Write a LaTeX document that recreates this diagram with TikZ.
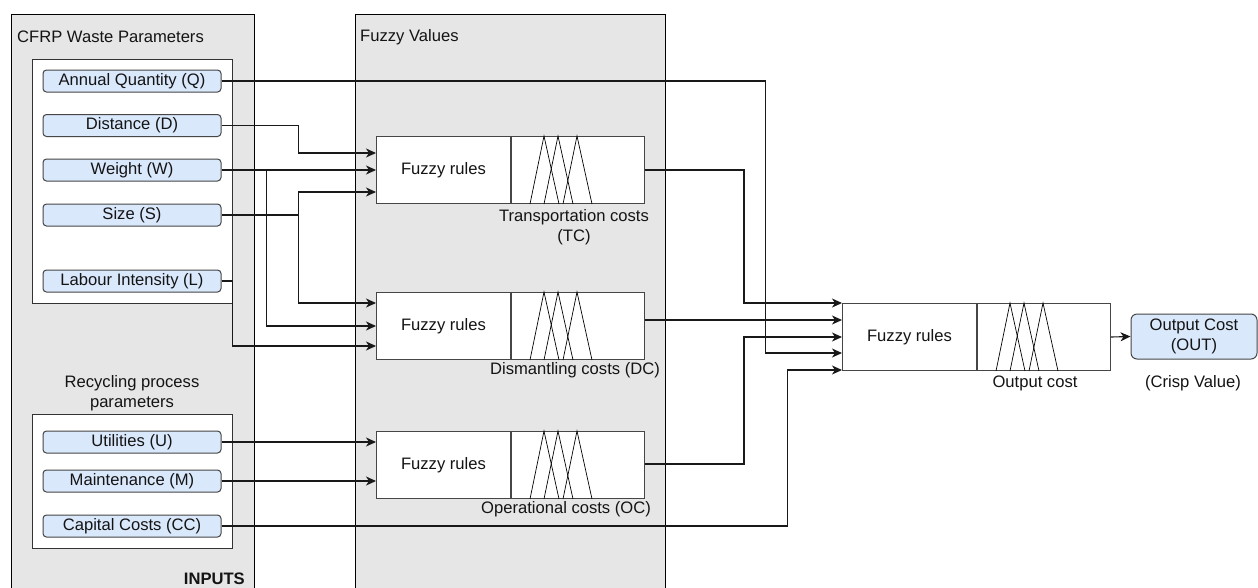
\documentclass[tikz,border=0pt]{standalone}
\usepackage{fontspec}
\setmainfont{Liberation Sans}
\usetikzlibrary{arrows.meta,calc}
\definecolor{panelgray}{RGB}{230,230,230}
\definecolor{lblue}{RGB}{218,232,252}
\definecolor{bord}{RGB}{70,70,70}
\definecolor{txt}{RGB}{20,20,20}
\newcommand\myfs{\fontsize{16.6}{20}\selectfont}
\tikzset{
  panel/.style={draw=black, fill=panelgray, line width=1.1pt, inner sep=0pt},
  innerbox/.style={draw=black!80, fill=white, line width=1pt, inner sep=0pt},
  param/.style={draw=bord, fill=lblue, rounded corners=3.5pt, minimum width=178pt, minimum height=22pt, inner sep=0pt, line width=1pt},
  rules/.style={draw=bord, fill=white, minimum width=134pt, minimum height=67pt, inner sep=0pt, line width=1pt},
  memb/.style={draw=bord, fill=white, minimum width=133pt, minimum height=67pt, inner sep=0pt, line width=1pt},
  tri/.style={draw=black, line width=0.7pt},
  lbl/.style={inner sep=0pt, align=center},
  wire/.style={draw=black!90, line width=1.1pt},
  conn/.style={wire, -{Stealth[length=10pt,width=9pt,inset=3pt]}},
}
\newcommand\myfuzzy[3]{%
  \node[rules, anchor=north west] (#1R) at (#2,#3) {Fuzzy rules};
  \node[memb, anchor=north west] (#1M) at (#1R.north east) {};
  \foreach \a in {19,33,52}
    \draw[tri] ($(#1M.south west)+(\a,0)$) -- ($(#1M.north west)+(\a+14,0)$) -- ($(#1M.south west)+(\a+29,0)$);
}
\begin{document}
\begin{tikzpicture}[x=1pt, y=-1pt, font=\myfs, text=txt]
\useasboundingbox (0,0) rectangle (1258,587);
\clip (0,0) rectangle (1258,587);
\fill[white] (0,0) rectangle (1258,587);

% panels
\node[panel, anchor=north west, minimum width=243pt, minimum height=600pt] (inputs) at (11,14) {};
\node[panel, anchor=north west, minimum width=310pt, minimum height=600pt] (fuzzyp) at (355,14) {};
\node[lbl, anchor=west] (cfrpt) at (17,37) {CFRP Waste Parameters};
\node[lbl, anchor=west] (fvt) at (360,37) {Fuzzy Values};
\node[lbl, anchor=east, font=\myfs\bfseries] (inpt) at (245,579) {INPUTS};
\node[lbl] (rect) at (132,393) {Recycling process\\parameters};

% inner boxes
\node[innerbox, anchor=north west, minimum width=200pt, minimum height=244pt] (cfrpbox) at (32,59) {};
\node[innerbox, anchor=north west, minimum width=200pt, minimum height=134pt] (recbox) at (32,414) {};

% parameter nodes
\node[param] (Q) at (132,81) {Annual Quantity (Q)};
\node[param] (D) at (132,125.5) {Distance (D)};
\node[param] (W) at (132,170) {Weight (W)};
\node[param] (S) at (132,215) {Size (S)};
\node[param] (L) at (132,281) {Labour Intensity (L)};
\node[param] (U) at (132,442) {Utilities (U)};
\node[param] (M) at (132,481) {Maintenance (M)};
\node[param] (CC) at (132,526) {Capital Costs (CC)};

% fuzzy blocks
\myfuzzy{tc}{376}{136}
\myfuzzy{dc}{376}{292}
\myfuzzy{oc}{376}{431}
\myfuzzy{out}{842}{303}

\node[lbl] (tcl) at (574,227) {Transportation costs\\(TC)};
\node[lbl] (dcl) at (575,370) {Dismantling costs (DC)};
\node[lbl] (ocl) at (566,509) {Operational costs (OC)};
\node[lbl] (outl) at (1035,383) {Output cost};
\node[param, minimum width=126pt, minimum height=45pt, rounded corners=6pt, align=center] (OUT) at (1194,336.5) {Output Cost\\(OUT)};
\node[lbl] (crisp) at (1193,383) {(Crisp Value)};

% entry / exit points
\coordinate (t1) at ($(tcR.north west)+(0,17)$);
\coordinate (t2) at ($(tcR.north west)+(0,34)$);
\coordinate (t3) at ($(tcR.north west)+(0,56)$);
\coordinate (d1) at ($(dcR.north west)+(0,11)$);
\coordinate (d2) at ($(dcR.north west)+(0,34)$);
\coordinate (d3) at ($(dcR.north west)+(0,54)$);
\coordinate (c1) at ($(ocR.north west)+(0,11)$);
\coordinate (c2) at ($(ocR.north west)+(0,50)$);
\coordinate (o1) at ($(outR.north west)+(0,0)$);
\coordinate (o2) at ($(outR.north west)+(0,17)$);
\coordinate (o3) at ($(outR.north west)+(0,34)$);
\coordinate (o4) at ($(outR.north west)+(0,50)$);
\coordinate (o5) at ($(outR.north west)+(0,67)$);
\coordinate (tco) at ($(tcM.north east)+(0,34)$);
\coordinate (dco) at ($(dcM.north east)+(0,28)$);
\coordinate (oco) at ($(ocM.north east)+(0,33)$);

% connectors
\draw[conn] (D.east) -- ++(77,0) |- (t1);
\draw[conn] (W.east) -- (t2);
\draw[conn] ($(W.east)+(45,0)$) |- (d2);
\draw[conn] (S.east) -- ++(77,0) |- (t3);
\draw[conn] ($(S.east)+(77,0)$) |- (d1);
\draw[conn] (L.east) -- ++(11,0) |- (d3);
\draw[conn] (U.east) -- (c1);
\draw[conn] (M.east) -- (c2);
\draw[conn] (tco) -- ++(99,0) |- (o1);
\draw[conn] (dco) -- (o2);
\draw[conn] (oco) -- ++(99,0) |- (o3);
\draw[conn] (Q.east) -- ++(544,0) |- (o4);
\draw[conn] (CC.east) -- ++(566,0) |- (o5);
\draw[conn] (outM.east) -- (OUT.west);
\end{tikzpicture}
\end{document}
